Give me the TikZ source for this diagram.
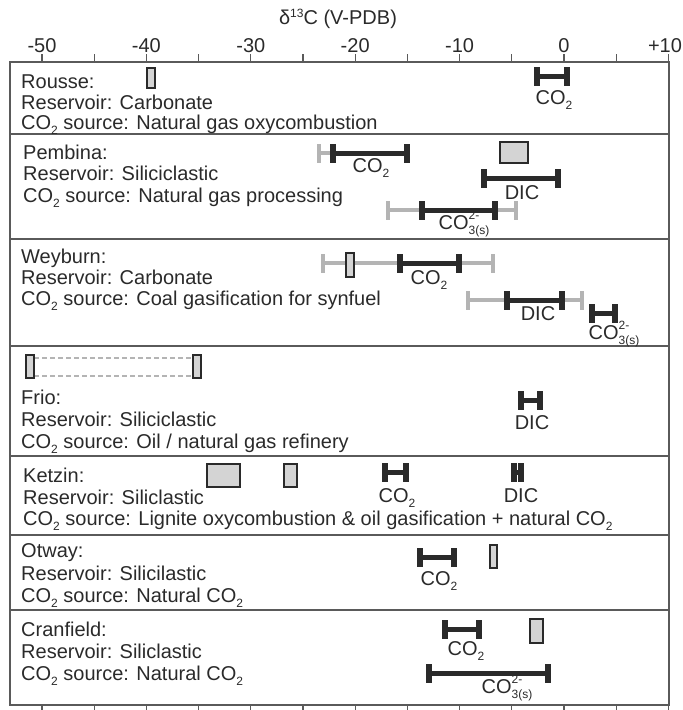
\documentclass[tikz,border=0pt]{standalone}
\usepackage{fontspec}
\setmainfont{Liberation Sans}
\definecolor{ink}{HTML}{2A2A2A}
\definecolor{bargray}{HTML}{B4B4B4}
\definecolor{boxfill}{HTML}{D4D4D4}
\definecolor{framec}{HTML}{5A5A5A}
\newcommand\blackbar[3]{%
  \draw[line width=5pt,draw=ink] (#1,#3) -- (#2,#3);
  \fill[ink] (#1-3,#3-9.5) rectangle (#1+3,#3+9.5);
  \fill[ink] (#2-3,#3-9.5) rectangle (#2+3,#3+9.5);}
\newcommand\graybar[3]{%
  \draw[line width=3.5pt,draw=bargray] (#1,#3) -- (#2,#3);
  \fill[bargray] (#1-1.8,#3-9.5) rectangle (#1+1.8,#3+9.5);
  \fill[bargray] (#2-1.8,#3-9.5) rectangle (#2+1.8,#3+9.5);}
\tikzset{
  txt/.style={anchor=base west, inner sep=0pt, text=ink, font=\fontsize{20}{24}\selectfont},
  lbl/.style={anchor=base, inner sep=0pt, text=ink, font=\fontsize{20}{24}\selectfont},
  databox/.style={draw=ink, line width=2.4pt, fill=boxfill},
  frameline/.style={draw=framec, line width=1.4pt},
  tickline/.style={draw=framec, line width=1.2pt}
}
\newcommand\smallfig[1]{{\fontsize{12}{12}\selectfont #1}}
\newcommand\subtwo{\raisebox{-5pt}{\smallfig{2}}}
\newcommand\cothree{CO\rlap{\raisebox{9.5pt}{\smallfig{2-}}}\raisebox{-5.5pt}{\smallfig{3(s)}}}
\begin{document}
\begin{tikzpicture}[x=1pt,y=-1pt]
\useasboundingbox (0,0) rectangle (683,710);
% title and axis
\node[lbl] (title) at (338,24) {δ\raisebox{7pt}{\smallfig{13}}C (V-PDB)};
\foreach \v/\t in {-50/-50,-40/-40,-30/-30,-20/-20,-10/-10,0/0}
  \node[lbl] (ax\t) at ({564+10.44*\v},52) {\t};
\node[lbl] (axp10) at (665,52) {+10};
\foreach \v in {-50,-45,...,10} {
  \draw[tickline] ({564+10.44*\v},54) -- ({564+10.44*\v},62);
  \draw[tickline] ({564+10.44*\v},705) -- ({564+10.44*\v},712);
}
% frame and dividers
\draw[frameline] (10,62) rectangle (669,705);
\foreach \yy in {134,239,346,456,535,610}
  \draw[frameline] (10,\yy) -- (669,\yy);
% Rousse
\node[txt] (r1) at (21,88) {Rousse:};
\node[txt] (r2) at (21,109) {Reservoir: Carbonate};
\node[txt] (r3) at (21,129) {CO\subtwo{} source: Natural gas oxycombustion};
\draw[databox] (147,68) rectangle (155,88);
\blackbar{537}{567}{76}
\node[lbl] (rco2) at (554,104) {CO\subtwo};
% Pembina
\node[txt] (p1) at (23,159) {Pembina:};
\node[txt] (p2) at (23,180) {Reservoir: Siliciclastic};
\node[txt] (p3) at (23,202) {CO\subtwo{} source: Natural gas processing};
\graybar{319}{333}{153}
\blackbar{333}{407}{153}
\node[lbl] (pco2) at (371,172) {CO\subtwo};
\draw[databox] (500,142) rectangle (528,163);
\blackbar{484}{558}{178}
\node[lbl] (pdic) at (522,199) {DIC};
\graybar{388}{516}{210}
\blackbar{422}{495}{210}
\node[lbl] (pco3) at (464,229) {\cothree};
% Weyburn
\node[txt] (w1) at (21,263) {Weyburn:};
\node[txt] (w2) at (21,284) {Reservoir: Carbonate};
\node[txt] (w3) at (21,305) {CO\subtwo{} source: Coal gasification for synfuel};
\graybar{323}{493}{263}
\draw[databox] (346,253) rectangle (354,277);
\blackbar{400}{459}{263}
\node[lbl] (wco2) at (429,284) {CO\subtwo};
\graybar{468}{582}{300}
\blackbar{507}{562}{300}
\node[lbl] (wdic) at (538,320) {DIC};
\blackbar{592}{615}{313}
\node[lbl] (wco3) at (614,339) {\cothree};
% Frio
\draw[bargray, line width=2.2pt, dash pattern=on 5pt off 3pt] (34,358) -- (193,358);
\draw[bargray, line width=2.2pt, dash pattern=on 5pt off 3pt] (34,376) -- (193,376);
\draw[databox] (26,355) rectangle (34,378);
\draw[databox] (193,355) rectangle (201,378);
\node[txt] (f1) at (21,404) {Frio:};
\node[txt] (f2) at (21,426) {Reservoir: Siliciclastic};
\node[txt] (f3) at (21,448) {CO\subtwo{} source: Oil / natural gas refinery};
\blackbar{521}{540}{400}
\node[lbl] (fdic) at (532,429) {DIC};
% Ketzin
\node[txt] (k1) at (23,482) {Ketzin:};
\node[txt] (k2) at (23,504) {Reservoir: Siliclastic};
\node[txt] (k3) at (23,525) {CO\subtwo{} source: Lignite oxycombustion \& oil gasification + natural CO\subtwo};
\draw[databox] (207,464) rectangle (240,487);
\draw[databox] (284,464) rectangle (297,487);
\blackbar{385}{406}{472}
\node[lbl] (kco2) at (397,502) {CO\subtwo};
\blackbar{514}{521}{472}
\node[lbl] (kdic) at (521,502) {DIC};
% Otway
\node[txt] (o1) at (21,557) {Otway:};
\node[txt] (o2) at (21,580) {Reservoir: Silicilastic};
\node[txt] (o3) at (21,602) {CO\subtwo{} source: Natural CO\subtwo};
\blackbar{420}{454}{557}
\node[lbl] (oco2) at (439,585) {CO\subtwo};
\draw[databox] (490,545) rectangle (497,568);
% Cranfield
\node[txt] (c1) at (21,636) {Cranfield:};
\node[txt] (c2) at (21,658) {Reservoir: Siliclastic};
\node[txt] (c3) at (21,680) {CO\subtwo{} source: Natural CO\subtwo};
\blackbar{445}{479}{629}
\node[lbl] (cco2) at (466,655) {CO\subtwo};
\draw[databox] (530,619) rectangle (543,643);
\blackbar{429}{548}{673}
\node[lbl] (cco3) at (507,693) {\cothree};
\end{tikzpicture}
\end{document}
